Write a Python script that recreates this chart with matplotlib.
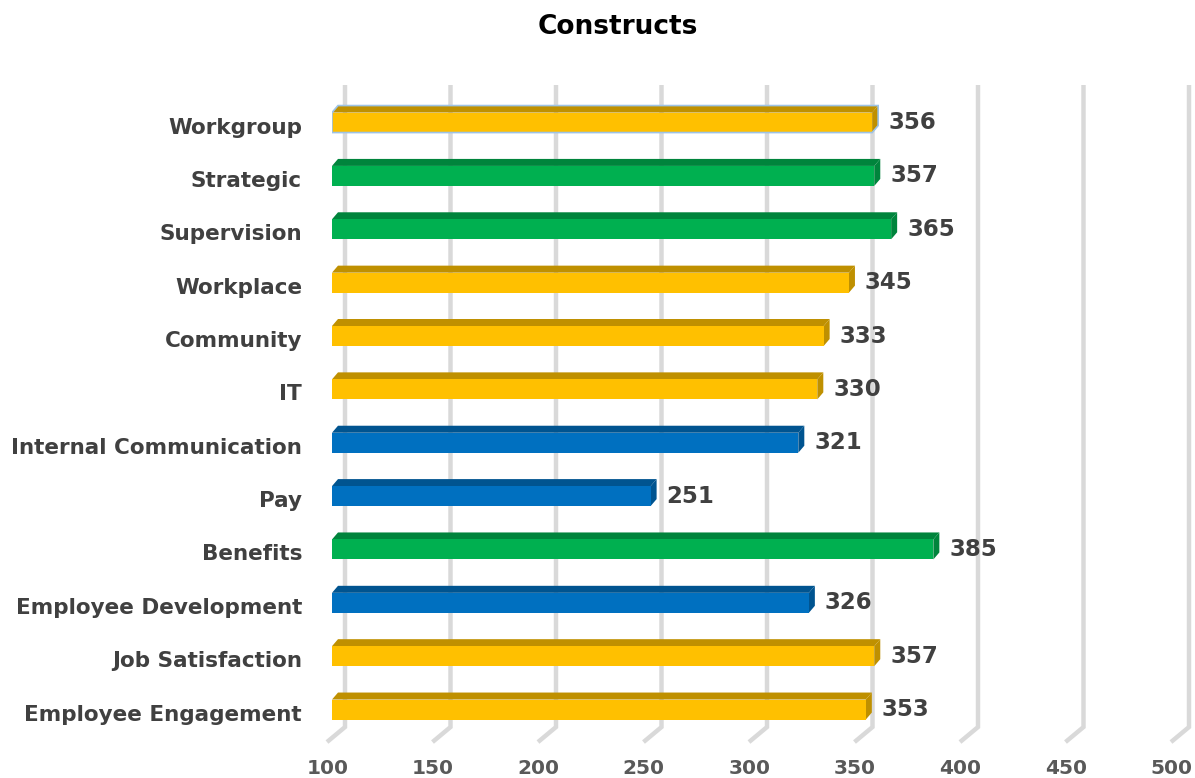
import matplotlib.pyplot as plt
from matplotlib.patches import Polygon, Rectangle

# dati (dal basso verso l'alto)
categorie = ['Employee Engagement', 'Job Satisfaction', 'Employee Development', 'Benefits',
             'Pay', 'Internal Communication', 'IT', 'Community', 'Workplace',
             'Supervision', 'Strategic', 'Workgroup']
valori = [353, 357, 326, 385, 251, 321, 330, 333, 345, 365, 357, 356]
gruppi = ['giallo', 'giallo', 'blu', 'verde', 'blu', 'blu', 'giallo', 'giallo', 'giallo',
          'verde', 'verde', 'giallo']
tick_x = [100, 150, 200, 250, 300, 350, 400, 450, 500]

colori = {
    'giallo': ('#FFC000', '#BF9000'),
    'verde': ('#00B050', '#00843C'),
    'blu': ('#0070C0', '#005490'),
}

W, H = 1195, 778
fig = plt.figure(figsize=(W / 100, H / 100), dpi=100)
px_x = 2.11     # pixel per unita' sull'asse x
px_y = 53.36    # pixel per categoria
ax = fig.add_axes([332 / W, (H - 762.9) / H, 844 / W, (762.9 - 69.2) / H])
ax.set_xlim(100, 500)
ax.set_ylim(-1, 12)
ax.axis('off')

# griglia "3D": linea verticale sul fondo + piede obliquo sul pavimento
y_top = (709.5 - 85) / px_y
y_base = (709.5 - 727) / px_y
y_piede = (709.5 - 742) / px_y
for v in tick_x:
    xb = v + 13 / px_x
    xf = v - 5 / px_x
    ax.plot([xb, xb, xf], [y_top, y_base, y_piede], color='#D9D9D9', lw=3.2,
            solid_capstyle='butt', solid_joinstyle='miter', clip_on=False, zorder=1)
    ax.text(v - 2.2, (709.5 - 768) / px_y, str(v), ha='center', va='center',
            fontsize=14.5, fontweight='bold', color='#595959', clip_on=False)

# barre con profondita'
h = 20 / px_y
dx = 6 / px_x
dy = 7 / px_y
for i, (cat, val, g) in enumerate(zip(categorie, valori, gruppi)):
    fronte, scuro = colori[g]
    y0 = i - h / 2
    ax.add_patch(Polygon([(100, y0 + h), (100 + dx, y0 + h + dy), (val + dx, y0 + h + dy), (val, y0 + h)],
                         closed=True, facecolor=scuro, edgecolor='none', zorder=3))
    ax.add_patch(Polygon([(val, y0), (val + dx, y0 + dy), (val + dx, y0 + h + dy), (val, y0 + h)],
                         closed=True, facecolor=scuro, edgecolor='none', zorder=3))
    ax.add_patch(Rectangle((100, y0), val - 100, h, facecolor=fronte, edgecolor='none', zorder=4))
    if cat == 'Workgroup':
        ax.add_patch(Polygon([(100, y0), (val, y0), (val + dx, y0 + dy), (val + dx, y0 + h + dy),
                              (100 + dx, y0 + h + dy), (100, y0 + h)],
                             closed=True, facecolor='none', edgecolor='#9DC3E6', lw=1.2, zorder=5))
    ax.text(val + 16 / px_x, i, str(val), ha='left', va='center', fontsize=16.5,
            fontweight='bold', color='#404040', zorder=6)
    ax.text(100 - 30 / px_x, i - 5 / px_y, cat, ha='right', va='center', fontsize=15.5,
            fontweight='bold', color='#404040', clip_on=False)

fig.text(618 / W, 1 - 27 / H, 'Constructs', ha='center', va='center',
         fontsize=19, fontweight='bold', color='black')

fig.savefig('out.png', dpi=100)
